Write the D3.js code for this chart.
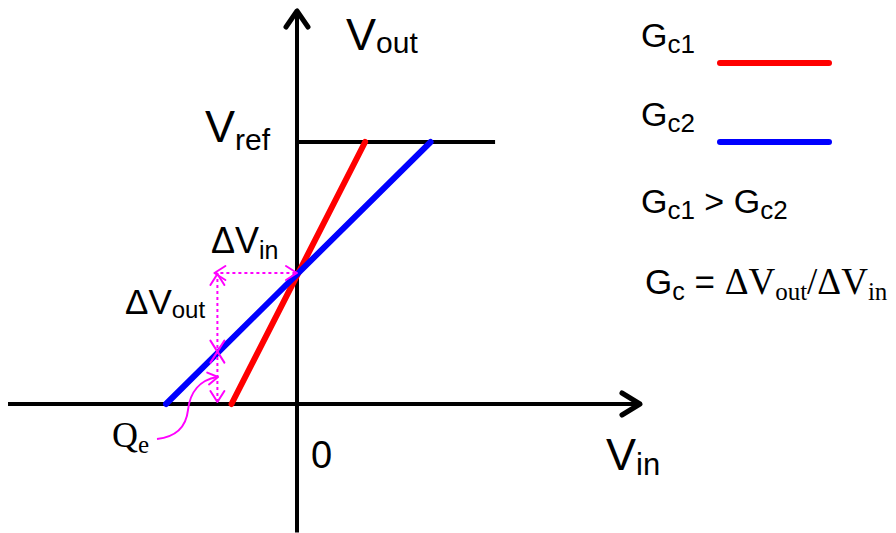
<!DOCTYPE html>
<html lang="en">
<head>
<meta charset="UTF-8">
<title>Gain characteristic</title>
<script src="https://cdn.jsdelivr.net/npm/d3@7"></script>
<style>
  body { margin: 0; background: #fff; }
  text { font-family: "Liberation Sans", Arial, sans-serif; fill: #000; }
  .serif { font-family: "Liberation Serif", "Times New Roman", serif; }
</style>
</head>
<body>
<div id="chart"></div>
<script>
// transfer lines, [Vin, Vout] end points (Vout relative to Vref)
const curveNames = ["Gc1", "Gc2"];
const curveColors = ["#ff0000", "#0000ff"];
const redLine = [[-0.25, 0], [0.26, 1]];
const blueLine = [[-0.5, 0], [0.51, 1]];
const vref = 1;
const vrefLineEnd = 0.756;
// axis extents
const vinExtent = [-1.103, 1.309];
const voutExtent = [-0.49, 1.5];
// the step marked with magenta arrows (on the Gc2 line)
const stepVin = -0.3;
const stepVout = [0, 0.2, 0.5];

const width = 896, height = 533;
const svg = d3.select("#chart").append("svg")
    .attr("width", width)
    .attr("height", height);

const x = d3.scaleLinear().domain([0, 1]).range([297, 559]);
const y = d3.scaleLinear().domain([0, 1]).range([404, 142]);

// open chevron arrow head, tip at (tx, ty), pointing in direction ang (radians)
function arrowHead(g, tx, ty, ang, len, half, color, w) {
    const bx = tx - len * Math.cos(ang), by = ty - len * Math.sin(ang);
    const px = -Math.sin(ang) * half, py = Math.cos(ang) * half;
    g.append("path")
        .attr("d", `M${bx + px},${by + py}L${tx},${ty}L${bx - px},${by - py}`)
        .attr("fill", "none")
        .attr("stroke", color)
        .attr("stroke-width", w)
        .attr("stroke-linecap", "round")
        .attr("stroke-linejoin", "round");
}

// text with subscripts: parts = [[text, size, shift, class]]
function label(px, py, parts) {
    const t = svg.append("text").attr("x", px).attr("y", py);
    let cur = 0;
    parts.forEach(([s, size, shift, cls]) => {
        t.append("tspan")
            .attr("dy", shift - cur)
            .attr("font-size", size)
            .attr("class", cls || null)
            .text(s);
        cur = shift;
    });
    return t;
}

// axes
const axes = svg.append("g");
axes.append("line")
    .attr("x1", x(vinExtent[0])).attr("x2", x(vinExtent[1]) - 2)
    .attr("y1", y(0)).attr("y2", y(0))
    .attr("stroke", "#000").attr("stroke-width", 4);
axes.append("line")
    .attr("x1", x(0)).attr("x2", x(0))
    .attr("y1", y(voutExtent[0])).attr("y2", y(voutExtent[1]) + 2)
    .attr("stroke", "#000").attr("stroke-width", 4);
arrowHead(axes, x(vinExtent[1]), y(0), 0, 18, 11, "#000", 5);
arrowHead(axes, x(0), y(voutExtent[1]), -Math.PI / 2, 16, 11, "#000", 5);

// Vref level
svg.append("line")
    .attr("x1", x(0)).attr("x2", x(vrefLineEnd))
    .attr("y1", y(vref)).attr("y2", y(vref))
    .attr("stroke", "#000").attr("stroke-width", 4);

// transfer lines
const line = d3.line().x(d => x(d[0])).y(d => y(d[1]));
[redLine, blueLine].forEach((pts, i) => {
    svg.append("path")
        .attr("d", line(pts))
        .attr("fill", "none")
        .attr("stroke", curveColors[i])
        .attr("stroke-width", 6)
        .attr("stroke-linecap", "round");
});

// magenta delta arrows
const mag = svg.append("g");
const dash = "3,3";
const sx = x(stepVin) - 1;
mag.append("line")
    .attr("x1", sx - 3).attr("x2", x(0))
    .attr("y1", y(stepVout[2])).attr("y2", y(stepVout[2]))
    .attr("stroke", "#ff00ff").attr("stroke-width", 2).attr("stroke-dasharray", dash);
arrowHead(mag, sx - 3, y(stepVout[2]), Math.PI, 11, 7, "#ff00ff", 2);
arrowHead(mag, x(0), y(stepVout[2]), 0, 11, 7, "#ff00ff", 2);
mag.append("line")
    .attr("x1", sx).attr("x2", sx)
    .attr("y1", y(stepVout[2])).attr("y2", y(stepVout[0]) - 2)
    .attr("stroke", "#ff00ff").attr("stroke-width", 2).attr("stroke-dasharray", dash);
arrowHead(mag, sx, y(stepVout[2]) + 1, -Math.PI / 2, 11, 7, "#ff00ff", 2);
arrowHead(mag, sx, y(stepVout[1]), Math.PI / 2, 11, 7, "#ff00ff", 2);
arrowHead(mag, sx, y(stepVout[1]), -Math.PI / 2, 11, 7, "#ff00ff", 2);
arrowHead(mag, sx, y(stepVout[0]) - 2, Math.PI / 2, 11, 7, "#ff00ff", 2);

// Qe pointer
mag.append("path")
    .attr("d", "M157,439 C175,437 186,428 188,410 C190,392 200,380 217,377")
    .attr("fill", "none").attr("stroke", "#ff00ff").attr("stroke-width", 2);
arrowHead(mag, 218, 377, -0.15, 10, 6, "#ff00ff", 2);

// labels
label(346, 50, [["V", 45, 0], ["out", 30, 3]]);
label(205, 142, [["V", 45, 0], ["ref", 30, 8]]);
label(606, 470, [["V", 45, 0], ["in", 31, 5]]);
label(311, 468, [["0", 38, 0]]);
label(211, 253, [["\u0394V", 36, 0], ["in", 25, 6]]);
label(125, 314, [["\u0394V", 35, 0], ["out", 24, 4]]);
label(112, 447, [["Q", 36, 0, "serif"], ["e", 25, 6, "serif"]]);

// legend
const legendY = [63, 142];
curveNames.forEach((n, i) => {
    label(641, legendY[i] - 16, [["G", 34, 0], [n.slice(1), 26, 6]]);
    svg.append("line")
        .attr("x1", 720).attr("x2", 829)
        .attr("y1", legendY[i]).attr("y2", legendY[i])
        .attr("stroke", curveColors[i])
        .attr("stroke-width", 6)
        .attr("stroke-linecap", "round");
});
label(641, 213, [["G", 34, 0], ["c1", 26, 6], [" > G", 34, 0], ["c2", 26, 6]]);
label(645, 294, [["G", 35, 0], ["c", 25, 6], [" = ", 35, 0],
    ["\u0394V", 37, 0, "serif"], ["out", 25, 6, "serif"], ["/\u0394V", 37, 0, "serif"], ["in", 25, 6, "serif"]]);
</script>
</body>
</html>
